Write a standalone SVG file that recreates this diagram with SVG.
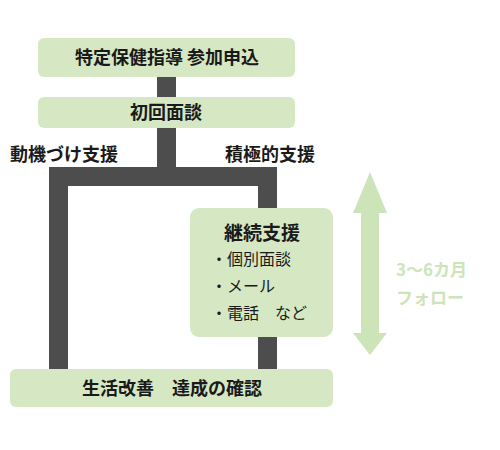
<svg xmlns="http://www.w3.org/2000/svg" width="500" height="450" viewBox="0 0 500 450">
<style>
.box{fill:#d5e8c3;}
.bar{fill:#4d4d4d;}
.t{font-family:"Noto Sans CJK JP","Noto Sans",sans-serif;font-weight:bold;font-size:18px;fill:#1a1a1a;}
.s{font-family:"Noto Sans CJK JP","Noto Sans",sans-serif;font-size:16px;fill:#1a1a1a;}
.g{font-family:"Noto Sans CJK JP","Noto Sans",sans-serif;font-weight:bold;font-size:17px;fill:#cde4b9;}
</style>
<rect width="500" height="450" fill="#ffffff"/>
<g id="connectors">
<rect class="bar" x="157" y="77" width="19" height="20"/>
<rect class="bar" x="157" y="128" width="19" height="40"/>
<rect class="bar" x="49" y="167" width="228" height="19"/>
<rect class="bar" x="49" y="167" width="19" height="203"/>
<rect class="bar" x="258" y="167" width="19" height="41"/>
<rect class="bar" x="258" y="336" width="19" height="34"/>
</g>
<g id="n1">
<rect class="box" x="38" y="38" width="257" height="39" rx="6"/>
<text class="t" x="167" y="64" text-anchor="middle">特定保健指導 参加申込</text>
</g>
<g id="n2">
<rect class="box" x="38" y="97" width="257" height="31" rx="6"/>
<text class="t" x="166" y="119" text-anchor="middle">初回面談</text>
</g>
<g id="lbl1"><text class="t" x="10" y="161">動機づけ支援</text></g>
<g id="lbl2"><text class="t" x="225" y="161">積極的支援</text></g>
<g id="n3">
<rect class="box" x="190" y="208" width="143" height="129" rx="9"/>
<text class="t" x="262" y="240" text-anchor="middle" style="font-size:19px">継続支援</text>
<text class="s" x="211" y="265">・個別面談</text>
<text class="s" x="211" y="292">・メール</text>
<text class="s" x="211" y="319">・電話　など</text>
</g>
<g id="n4">
<rect class="box" x="10" y="369" width="323" height="38" rx="6"/>
<text class="t" x="172" y="395" text-anchor="middle">生活改善　達成の確認</text>
</g>
<g id="arrow">
<polygon fill="#cde4b9" points="370,172 387,213 379,213 379,333 387,333 370,355 353,333 361,333 361,213 353,213"/>
<text class="g" x="396" y="276">3〜6カ月</text>
<text class="g" x="396" y="304">フォロー</text>
</g>
</svg>
